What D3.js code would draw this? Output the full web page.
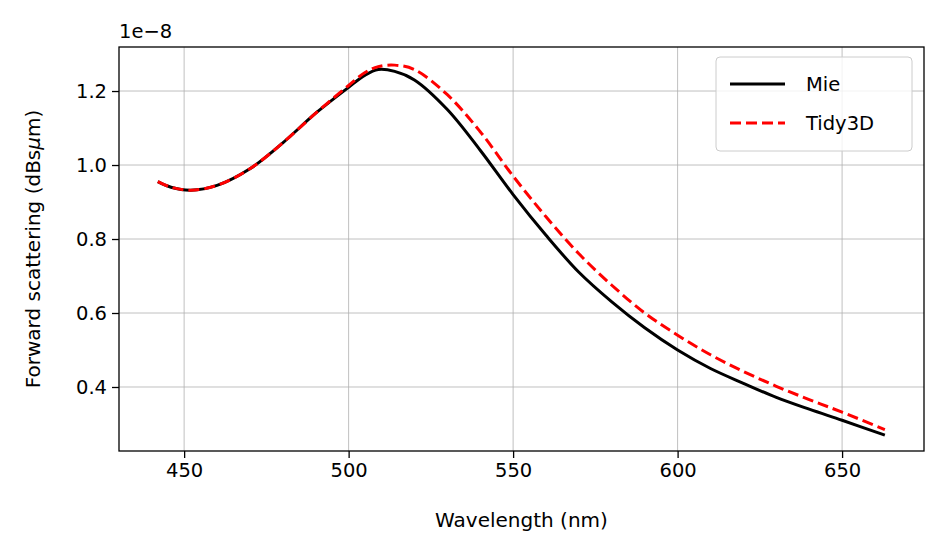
<!DOCTYPE html>
<html><head><meta charset="utf-8">
<script src="https://cdn.jsdelivr.net/npm/d3@7"></script>
<style>body{margin:0;background:#fff}text{font-family:"DejaVu Sans",sans-serif;fill:#000}</style>
</head><body>
<svg id="c" width="942" height="555"></svg>
<script>
var wavelengths = [442,446,452,460,470,480,490,500,505,509,514,520,530,540,550,560,570,580,590,600,610,620,630,640,650,663];
var mie =   [0.955,0.94,0.932,0.945,0.99,1.06,1.14,1.21,1.243,1.258,1.253,1.23,1.15,1.04,0.92,0.81,0.71,0.63,0.56,0.50,0.45,0.41,0.372,0.34,0.31,0.27];
var tidy =  [0.955,0.94,0.932,0.945,0.99,1.06,1.14,1.215,1.25,1.266,1.27,1.258,1.19,1.09,0.97,0.86,0.76,0.675,0.60,0.54,0.487,0.442,0.402,0.366,0.332,0.285];
var xTicks = [450,500,550,600,650];
var yTicks = [0.4,0.6,0.8,1.0,1.2];

var m = {left:119, right:924, top:47, bottom:451};
var svg = d3.select("#c");
var x = d3.scaleLinear().domain([430.2,674.9]).range([m.left,m.right]);
var y = d3.scaleLinear().domain([0.227,1.319]).range([m.bottom,m.top]);

svg.append("g").selectAll("line").data(xTicks).enter().append("line")
  .attr("x1",d=>x(d)).attr("x2",d=>x(d)).attr("y1",m.top).attr("y2",m.bottom)
  .attr("stroke","#b0b0b0").attr("stroke-width",0.8);
svg.append("g").selectAll("line").data(yTicks).enter().append("line")
  .attr("x1",m.left).attr("x2",m.right).attr("y1",d=>y(d)).attr("y2",d=>y(d))
  .attr("stroke","#b0b0b0").attr("stroke-width",0.8);

var xa = svg.append("g").attr("transform","translate(0,"+m.bottom+")")
  .call(d3.axisBottom(x).tickValues(xTicks).tickSize(7).tickPadding(5));
var ya = svg.append("g").attr("transform","translate("+m.left+",0)")
  .call(d3.axisLeft(y).tickValues(yTicks).tickFormat(d3.format(".1f")).tickSize(7).tickPadding(5));
[xa,ya].forEach(function(a){
  a.select(".domain").remove();
  a.selectAll("text").style("font-size","19.5px").attr("fill","#000");
  a.selectAll("line").attr("stroke","#000").attr("stroke-width",1.3);
});
svg.append("rect").attr("x",m.left).attr("y",m.top).attr("width",m.right-m.left).attr("height",m.bottom-m.top)
  .attr("fill","none").attr("stroke","#000").attr("stroke-width",1.3);

var line = d3.line().curve(d3.curveCatmullRom);
svg.append("path").attr("d",line(wavelengths.map((w,i)=>[x(w),y(mie[i])])))
  .attr("fill","none").attr("stroke","#000").attr("stroke-width",3);
svg.append("path").attr("d",line(wavelengths.map((w,i)=>[x(w),y(tidy[i])])))
  .attr("fill","none").attr("stroke","#ff0000").attr("stroke-width",3).attr("stroke-dasharray","11,5");

svg.append("text").attr("x",(m.left+m.right)/2).attr("y",527).attr("text-anchor","middle").style("font-size","20px").text("Wavelength (nm)");
svg.append("text").attr("transform","translate(40,"+((m.top+m.bottom)/2)+") rotate(-90)").attr("text-anchor","middle").style("font-size","20px")
  .html('Forward scattering (dBs<tspan font-style="italic">μ</tspan>m)');
svg.append("text").attr("x",119).attr("y",38).style("font-size","19.5px").text("1e\u22128");

var lg = svg.append("g");
lg.append("rect").attr("x",716).attr("y",57).attr("width",196).attr("height",94).attr("rx",4)
  .attr("fill","#fff").attr("fill-opacity",0.8).attr("stroke","#ccc");
var leg = [{n:"Mie",c:"#000",d:null},{n:"Tidy3D",c:"#ff0000",d:"11,5"}];
leg.forEach(function(l,i){
  var yy = 84+i*39;
  lg.append("line").attr("x1",730).attr("x2",785).attr("y1",yy).attr("y2",yy)
    .attr("stroke",l.c).attr("stroke-width",3).attr("stroke-dasharray",l.d);
  lg.append("text").attr("x",806).attr("y",yy+7).style("font-size","19.5px").text(l.n);
});
</script>
</body></html>
